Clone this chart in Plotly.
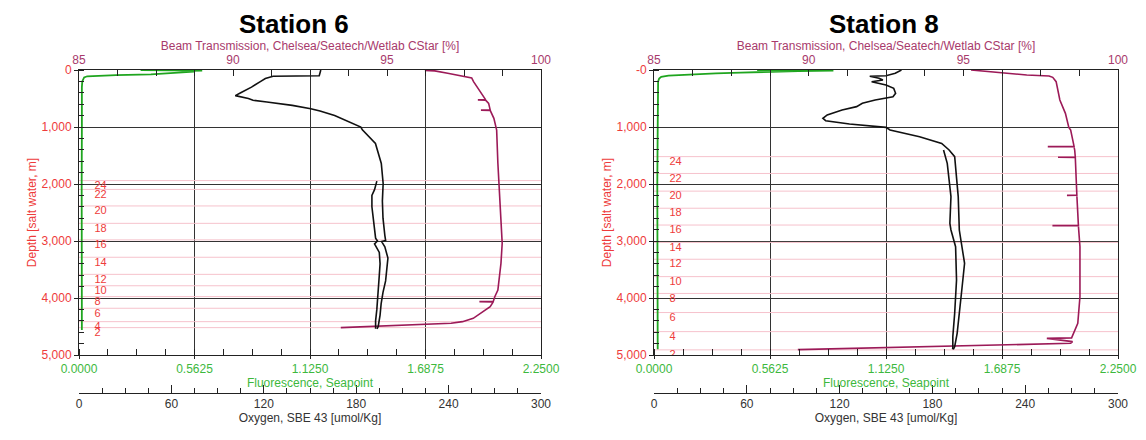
import plotly.graph_objects as go

# ---------------- axis ticks / labels ----------------
depth_ticks = [0, 1000, 2000, 3000, 4000, 5000]
depth_labels_6 = ["0", "1,000", "2,000", "3,000", "4,000", "5,000"]
depth_labels_8 = ["-0", "1,000", "2,000", "3,000", "4,000", "5,000"]
fl_ticks = [0, 0.5625, 1.125, 1.6875, 2.25]
fl_labels = ["0.0000", "0.5625", "1.1250", "1.6875", "2.2500"]
beam_ticks = [85, 90, 95, 100]
ox_ticks = [0, 60, 120, 180, 240, 300]

# ---------------- Station 6 ----------------
bottles_6 = ["24", "22", "20", "18", "16", "14", "12", "10", "8", "6", "4", "2"]
bottle_depth_6 = [1940, 2095, 2385, 2690, 2980, 3285, 3585, 3785, 3975, 4180, 4415, 4520]

fl6_depth = [0, 5, 10, 15, 20, 30, 45, 60, 75, 90, 100, 110, 130, 160, 200, 300, 600, 1000, 2000, 3000, 4000, 4560]
fl6_val = [0.30, 0.45, 0.60, 0.42, 0.52, 0.56, 0.48, 0.45, 0.35, 0.18, 0.07, 0.04, 0.025, 0.02, 0.016, 0.014, 0.015, 0.014, 0.013, 0.014, 0.013, 0.014]

ox6_down_depth = [0, 100, 110, 150, 200, 300, 400, 450, 500, 530, 560, 620, 680, 720, 800, 900, 1000, 1050, 1290, 1640, 1990,
                  2300, 2600, 2900, 2990, 3010, 3100, 3300, 3500, 3700, 3900, 4100, 4300, 4500, 4540]
ox6_down_val = [157, 156, 126, 121, 118, 112, 105, 101.5, 110, 113, 122, 138.5, 150.5, 156.5, 166, 174.5, 183, 184, 192.5, 196.3, 197.5,
                197, 197.4, 198.6, 199.1, 196.5, 198.6, 200.6, 199.8, 199.1, 197.4, 196.2, 195.5, 194.3, 193.5]
ox6_up_depth = [4540, 4400, 4200, 4000, 3800, 3600, 3400, 3200, 3050, 3000, 2950, 2700, 2400, 2200, 2100, 1950]
ox6_up_val = [192.6, 192.6, 193.4, 193.8, 194.3, 195.0, 195.5, 195.0, 191.9, 193.8, 192.6, 191.4, 190.2, 190.2, 191.9, 193.4]

beam6_depth = [6, 15, 58, 105, 140, 205, 304, 409, 497, 520, 524, 528, 585, 700, 704, 708, 848, 994, 1053, 1637, 2222, 2807, 3041,
               3392, 3684, 3860, 3977, 4060, 4064, 4068, 4152, 4269, 4357, 4415, 4444, 4520]
beam6_val = [96.23, 96.55, 96.97, 97.45, 97.75, 97.81, 97.93, 98.05, 98.17, 98.2, 97.95, 98.2, 98.3, 98.35, 98.05, 98.35, 98.47, 98.54, 98.56,
             98.6, 98.65, 98.7, 98.74, 98.7, 98.65, 98.6, 98.5, 98.45, 98.0, 98.45, 98.35, 98.05, 97.8, 97.45, 97.08, 93.5]

# ---------------- Station 8 ----------------
bottles_8 = ["24", "22", "20", "18", "16", "14", "12", "10", "8", "6", "4", "2"]
bottle_depth_8 = [1520, 1815, 2125, 2425, 2720, 3025, 3320, 3625, 3920, 4255, 4590, 4910]

fl8_depth = [0, 5, 10, 20, 30, 45, 60, 80, 100, 120, 150, 200, 400, 1000, 2000, 3000, 4000, 4900]
fl8_val = [0.50, 0.80, 0.87, 0.70, 0.55, 0.42, 0.30, 0.17, 0.07, 0.035, 0.025, 0.02, 0.02, 0.018, 0.016, 0.016, 0.018, 0.018]

ox8_down_depth = [0, 58, 100, 110, 146, 175, 205, 263, 322, 409, 468, 526, 585, 643, 702, 789, 848, 889, 947, 1006, 1053, 1170,
                  1287, 1404, 1520, 2222, 2807, 2982, 3392, 3860, 4269, 4620, 4854, 4900]
ox8_down_val = [160, 156, 150, 139.5, 145.5, 148, 140.7, 150, 155, 156.2, 154.5, 143, 134.7, 131, 121.6, 112, 109.2, 111, 126.4, 150,
                152.6, 171.7, 186, 190.8, 194.4, 196.7, 197.4, 198.4, 200.8, 199, 197.4, 196, 194.4, 193.5]
ox8_up_depth = [4900, 4883, 4678, 4269, 3684, 3100, 2807, 2690, 2222, 1637, 1404]
ox8_up_val = [193, 193.2, 193.2, 194.4, 195.6, 195, 192, 191.3, 192, 189.6, 187.2]

beam8_depth = [0, 58, 88, 105, 129, 205, 526, 760, 1006, 1053, 1340, 1345, 1350, 1404, 1528, 1532, 1536, 1930, 2195, 2199, 2203,
               2515, 2726, 2731, 2736, 3100, 3977, 4444, 4591, 4700, 4708, 4737, 4766, 4795, 4880, 4905]
beam8_val = [95.25, 96.33, 97.05, 97.77, 97.89, 98.0, 98.12, 98.3, 98.41, 98.47, 98.58, 97.73, 98.58, 98.6, 98.62, 98.06, 98.62, 98.65,
             98.67, 98.35, 98.67, 98.7, 98.72, 97.88, 98.72, 98.77, 98.77, 98.7, 98.6, 98.5, 97.7, 98.23, 98.53, 98.47, 90.9, 89.65]

# ---------------- styling ----------------
RED = "#ee3b3b"
GREEN = "#3db83d"
GREEN_LINE = "#1fa51f"
MAROON_TXT = "#a83a6c"
MAROON_LINE = "#9c1a58"
PINK = "#f6c2cc"
DARK = "#222222"
GRID = "#333333"
FONT = "Liberation Sans, Arial, sans-serif"

fig = go.Figure()


def add_station(xf, xb, xo, ya, bottles, bdepth, fd, fv, od, ov, ud, uv, bd, bv):
    lx, ly = [], []
    for d in bdepth:
        lx += [0, 2.25, None]
        ly += [d, d, None]
    fig.add_trace(go.Scatter(x=lx, y=ly, xaxis=xf, yaxis=ya, mode="lines",
                             line=dict(color=PINK, width=1), hoverinfo="skip", showlegend=False))
    fig.add_trace(go.Scatter(x=[0.075] * len(bdepth), y=bdepth, xaxis=xf, yaxis=ya, mode="text",
                             text=bottles, textposition="bottom right",
                             textfont=dict(color=RED, size=11, family=FONT), showlegend=False))
    fig.add_trace(go.Scatter(x=fv, y=fd, xaxis=xf, yaxis=ya, mode="lines",
                             line=dict(color=GREEN_LINE, width=1.8), showlegend=False))
    fig.add_trace(go.Scatter(x=ov, y=od, xaxis=xo, yaxis=ya, mode="lines",
                             line=dict(color="#111111", width=1.6), showlegend=False))
    fig.add_trace(go.Scatter(x=uv, y=ud, xaxis=xo, yaxis=ya, mode="lines",
                             line=dict(color="#111111", width=1.6), showlegend=False))
    fig.add_trace(go.Scatter(x=bv, y=bd, xaxis=xb, yaxis=ya, mode="lines",
                             line=dict(color=MAROON_LINE, width=1.6), showlegend=False))


add_station("x", "x2", "x3", "y", bottles_6, bottle_depth_6, fl6_depth, fl6_val,
            ox6_down_depth, ox6_down_val, ox6_up_depth, ox6_up_val, beam6_depth, beam6_val)
add_station("x4", "x5", "x6", "y2", bottles_8, bottle_depth_8, fl8_depth, fl8_val,
            ox8_down_depth, ox8_down_val, ox8_up_depth, ox8_up_val, beam8_depth, beam8_val)

W, H = 1146, 440
dom6 = [79 / W, 541 / W]
dom8 = [654 / W, 1118 / W]
ydom = [1 - 355 / H, 1 - 70 / H]
ox_pos = 1 - 393 / H


def fl_axis(domain, anchor):
    return dict(domain=domain, anchor=anchor, range=[0, 2.25], side="bottom", automargin=False,
                tickmode="array", tickvals=fl_ticks, ticktext=fl_labels,
                ticks="outside", ticklen=3, tickcolor=DARK,
                minor=dict(tickmode="linear", tick0=0, dtick=0.140625, ticks="inside", ticklen=6, tickcolor=DARK, showgrid=False),
                showgrid=True, gridcolor=GRID, gridwidth=1, zeroline=False,
                showline=True, linecolor=DARK, linewidth=1,
                tickfont=dict(color=GREEN, size=12, family=FONT),
                title=dict(text="Fluorescence, Seapoint", font=dict(color=GREEN, size=12, family=FONT), standoff=1))


def beam_axis(over, anchor):
    return dict(overlaying=over, anchor=anchor, side="top", range=[85, 100], automargin=False,
                tickmode="array", tickvals=beam_ticks, ticks="inside", ticklen=6, tickcolor=DARK,
                minor=dict(tickmode="linear", tick0=85, dtick=1.25, ticks="inside", ticklen=6, tickcolor=DARK, showgrid=False),
                showgrid=False, zeroline=False, showline=True, linecolor=DARK, linewidth=1,
                tickfont=dict(color=MAROON_TXT, size=12, family=FONT),
                title=dict(text="Beam Transmission, Chelsea/Seatech/Wetlab CStar [%]",
                           font=dict(color=MAROON_TXT, size=12, family=FONT), standoff=0))


def ox_axis(over):
    return dict(overlaying=over, anchor="free", position=ox_pos, side="bottom", range=[0, 300], automargin=False,
                tickmode="array", tickvals=ox_ticks, ticks="inside", ticklen=8, tickcolor=DARK,
                minor=dict(tickmode="linear", tick0=0, dtick=15, ticks="inside", ticklen=5, tickcolor=DARK, showgrid=False),
                showgrid=False, zeroline=False, showline=True, linecolor=DARK, linewidth=1,
                tickfont=dict(color="#333333", size=12, family=FONT),
                title=dict(text="Oxygen, SBE 43 [umol/Kg]", font=dict(color="#333333", size=12, family=FONT), standoff=2))


def depth_axis(anchor, labels):
    return dict(domain=ydom, anchor=anchor, range=[5000, 0], automargin=False,
                tickmode="array", tickvals=depth_ticks, ticktext=labels,
                ticks="outside", ticklen=4, tickcolor=DARK,
                minor=dict(tickmode="linear", tick0=0, dtick=200, ticks="inside", ticklen=5, tickcolor=DARK, showgrid=False),
                showgrid=True, gridcolor=GRID, gridwidth=1, zeroline=False,
                showline=True, mirror=True, linecolor=DARK, linewidth=1,
                tickfont=dict(color=RED, size=12, family=FONT),
                title=dict(text="Depth [salt water, m]", font=dict(color=RED, size=12, family=FONT), standoff=2))


fig.update_layout(
    width=W, height=H,
    margin=dict(l=0, r=0, t=0, b=0, pad=0, autoexpand=False),
    paper_bgcolor="white", plot_bgcolor="white",
    font=dict(family=FONT),
    xaxis=fl_axis(dom6, "y"),
    xaxis2=beam_axis("x", "y"),
    xaxis3=ox_axis("x"),
    yaxis=depth_axis("x", depth_labels_6),
    xaxis4=fl_axis(dom8, "y2"),
    xaxis5=beam_axis("x4", "y2"),
    xaxis6=ox_axis("x4"),
    yaxis2=depth_axis("x4", depth_labels_8),
    annotations=[
        dict(text="<b>Station 6</b>", x=294 / W, y=1 - 24 / H, xref="paper", yref="paper",
             showarrow=False, font=dict(size=26, color="black", family=FONT), xanchor="center", yanchor="middle"),
        dict(text="<b>Station 8</b>", x=884 / W, y=1 - 24 / H, xref="paper", yref="paper",
             showarrow=False, font=dict(size=26, color="black", family=FONT), xanchor="center", yanchor="middle"),
    ],
)

fig.write_html("out.html", config={"displayModeBar": False},
               post_script="document.body.style.margin='0';")
